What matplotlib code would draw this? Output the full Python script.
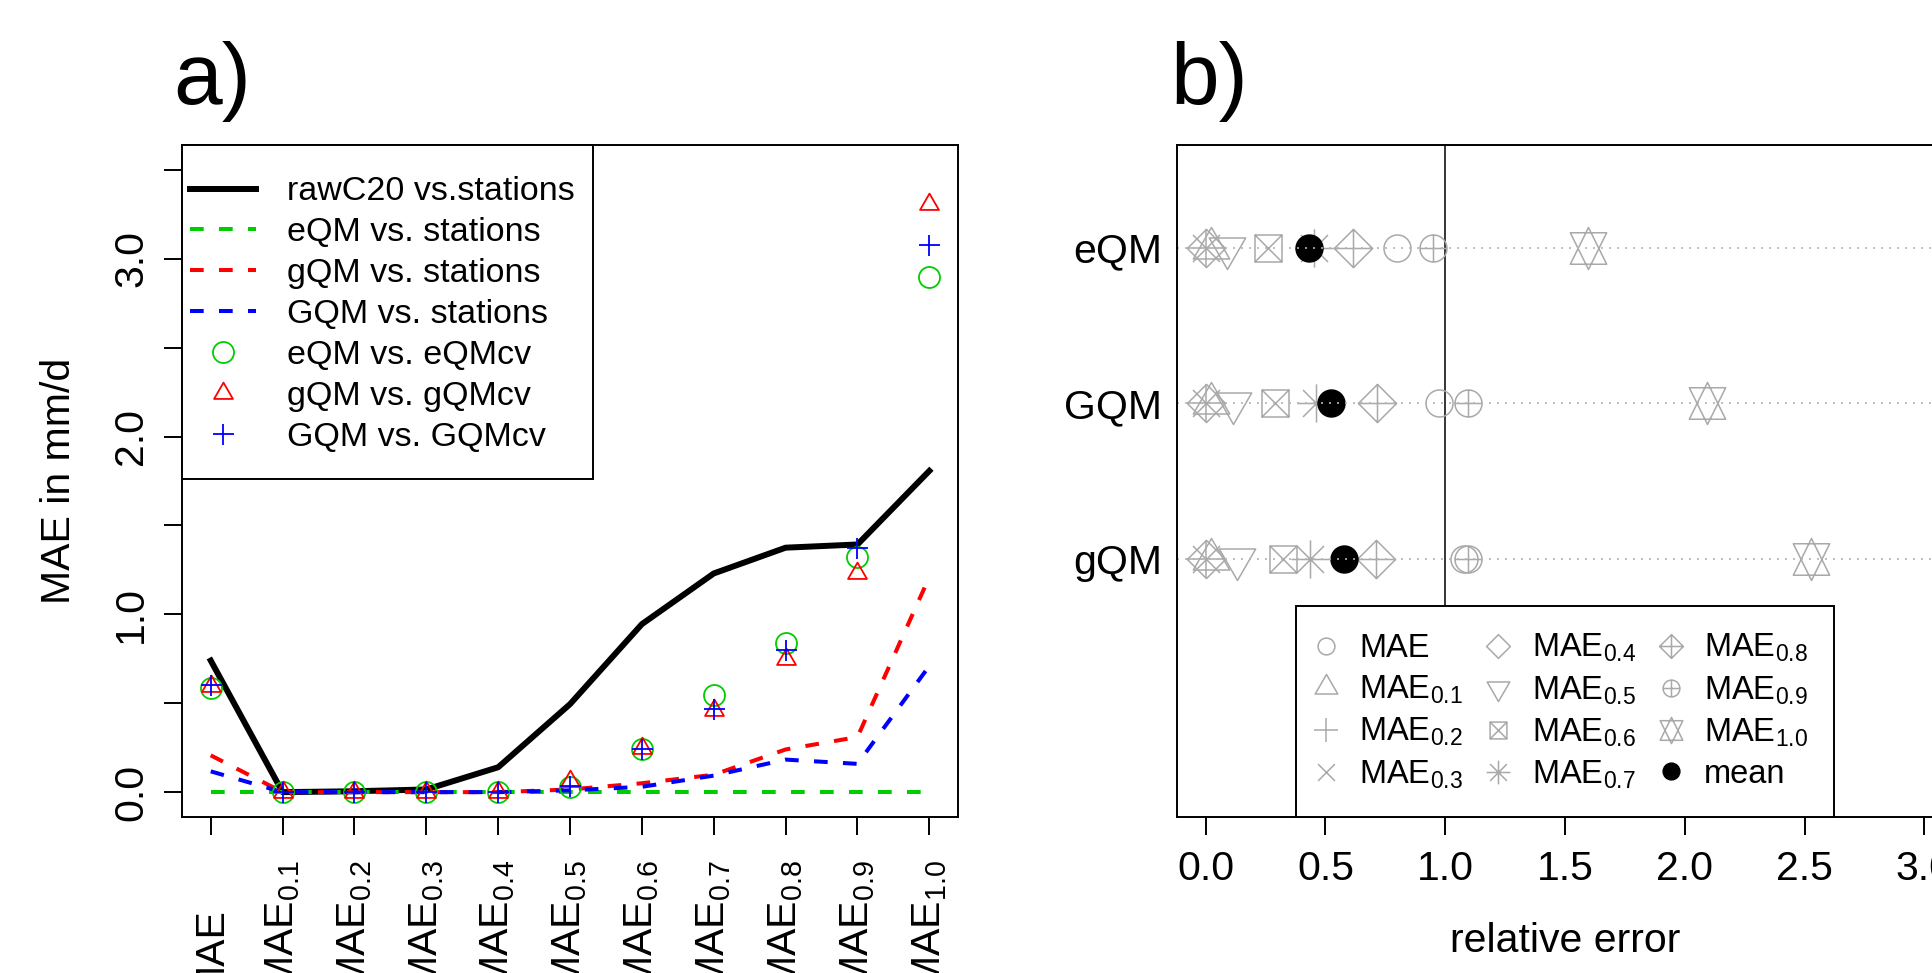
import numpy as np
import matplotlib
matplotlib.use('Agg')
import matplotlib.pyplot as plt
from matplotlib.path import Path
from matplotlib.lines import Line2D
from matplotlib.legend_handler import HandlerLine2D

plt.rcParams['font.family'] = ['Liberation Sans', 'DejaVu Sans']
plt.rcParams['mathtext.fontset'] = 'custom'
plt.rcParams['mathtext.rm'] = 'Liberation Sans'
plt.rcParams['mathtext.it'] = 'Liberation Sans:italic'
plt.rcParams['mathtext.bf'] = 'Liberation Sans:bold'

# ---------------- panel a) data ----------------
quantiles = ['MAE', '0.1', '0.2', '0.3', '0.4', '0.5', '0.6', '0.7', '0.8', '0.9', '1.0']
raw_c20 = [0.74, 0.0, 0.005, 0.015, 0.14, 0.495, 0.945, 1.23, 1.375, 1.393, 1.807]
eqm_st = [0.0, 0.0, 0.0, 0.0, 0.0, 0.0, 0.0, 0.0, 0.0, 0.0, 0.0]
gqm_st = [0.207, 0.0, 0.0, 0.0, 0.0, 0.015, 0.05, 0.098, 0.24, 0.31, 1.21]
GQM_st = [0.117, 0.0, 0.0, 0.0, 0.0, 0.01, 0.03, 0.093, 0.183, 0.159, 0.71]
eqm_cv = [0.588, 0.0, 0.0, 0.0, 0.0, 0.03, 0.244, 0.544, 0.841, 1.32, 2.90]
gqm_cv = [0.598, 0.0, 0.0, 0.0, 0.0, 0.06, 0.25, 0.46, 0.75, 1.23, 3.31]
GQM_cv = [0.60, 0.0, 0.0, 0.0, 0.0, 0.037, 0.24, 0.466, 0.80, 1.373, 3.076]

# ---------------- panel b) data ----------------
methods = ['eQM', 'GQM', 'gQM']
method_pos = [3, 2, 1]
rel_mae = [0.797, 0.972, 1.08]
rel_mae01 = [0.02, 0.02, 0.02]
rel_mae02 = [0.0, 0.0, 0.0]
rel_mae03 = [0.0, 0.0, 0.0]
rel_mae04 = [0.0, 0.0, 0.0]
rel_mae05 = [0.087, 0.112, 0.129]
rel_mae06 = [0.262, 0.29, 0.324]
rel_mae07 = [0.45, 0.46, 0.436]
rel_mae08 = [0.615, 0.716, 0.71]
rel_mae09 = [0.947, 1.095, 1.095]
rel_mae10 = [1.598, 2.092, 2.528]
rel_mean = [0.433, 0.523, 0.577]
rel_ticks = [0.0, 0.5, 1.0, 1.5, 2.0, 2.5, 3.0]

GREEN = '#00CD00'
GRAY = '#A9A9A9'
DPI = 100
PX = 72.0 / DPI  # points per pixel

# R-like plotting symbols (pch) as paths, in units of the symbol radius
TRC0, TRC1, TRC2 = 1.5551203, 1.3467737, 0.7775602
S2 = np.sqrt(2)


def seg(x0, y0, x1, y1):
    return Path([(x0, y0), (x1, y1)], [Path.MOVETO, Path.LINETO])


def poly(pts):
    return Path(pts + [pts[0]], [Path.MOVETO] + [Path.LINETO] * (len(pts) - 1) + [Path.CLOSEPOLY])


def pch(n):
    circ = Path.unit_circle()
    if n == 1:
        parts = [circ]
    elif n == 2:
        parts = [poly([(0, TRC0), (TRC1, -TRC2), (-TRC1, -TRC2)])]
    elif n == 3:
        parts = [seg(-S2, 0, S2, 0), seg(0, -S2, 0, S2)]
    elif n == 4:
        parts = [seg(-1, -1, 1, 1), seg(-1, 1, 1, -1)]
    elif n == 5:
        parts = [poly([(S2, 0), (0, S2), (-S2, 0), (0, -S2)])]
    elif n == 6:
        parts = [poly([(0, -TRC0), (TRC1, TRC2), (-TRC1, TRC2)])]
    elif n == 7:
        parts = [poly([(-1, -1), (1, -1), (1, 1), (-1, 1)]), seg(-1, -1, 1, 1), seg(-1, 1, 1, -1)]
    elif n == 8:
        parts = [seg(-1, -1, 1, 1), seg(-1, 1, 1, -1), seg(-S2, 0, S2, 0), seg(0, -S2, 0, S2)]
    elif n == 9:
        parts = [poly([(S2, 0), (0, S2), (-S2, 0), (0, -S2)]), seg(-S2, 0, S2, 0), seg(0, -S2, 0, S2)]
    elif n == 10:
        parts = [circ, seg(-1, 0, 1, 0), seg(0, -1, 0, 1)]
    else:  # 11
        yc = 0.5 * (TRC2 + TRC0)
        parts = [poly([(0, -TRC0), (TRC1, yc), (-TRC1, yc)]),
                 poly([(0, TRC0), (TRC1, -yc), (-TRC1, -yc)])]
    path = Path.make_compound_path(*parts)
    return path, 2 * np.abs(path.vertices).max()


def frame_style(left=0, right=0, bottom=0, top=0):
    # legend frame with uneven padding (pixels), like R's legend box
    def style(x0, y0, width, height, mutation_size, *args):
        x1, y1 = x0 - left, y0 - bottom
        x2, y2 = x0 + width + right, y0 + height + top
        return Path([(x1, y1), (x2, y1), (x2, y2), (x1, y2), (x1, y1)], closed=True)
    return style


fig = plt.figure(figsize=(19.32, 9.73), dpi=DPI)
ax = fig.add_axes([0.0942, 0.1603, 0.4017, 0.6907])
ax2 = fig.add_axes([0.6092, 0.1603, 0.4017, 0.6907])
AX_H = 0.6907 * 973

for a in (ax, ax2):
    for s in a.spines.values():
        s.set_linewidth(1.4)

# ---------------- panel a) ----------------
x = np.arange(1, len(quantiles) + 1)
ax.plot(x, raw_c20, color='black', lw=4.3, solid_joinstyle='round')
ax.plot(x, eqm_st, color=GREEN, lw=2.9, dashes=(3.4, 3.8))
ax.plot(x, gqm_st, color='red', lw=2.9, dashes=(3.4, 3.8))
ax.plot(x, GQM_st, color='blue', lw=2.9, dashes=(3.4, 3.8))

tri_path, tri_ext = pch(2)
ax.plot(x, eqm_cv, ls='none', marker='o', ms=21 * PX, mfc='none', mec=GREEN, mew=1.3)
ax.plot(x, gqm_cv, ls='none', marker=tri_path, ms=tri_ext * 7 * PX, mfc='none', mec='red', mew=1.3)
ax.plot(x, GQM_cv, ls='none', marker='+', ms=21 * PX, mec='blue', mew=1.3)

ax.set_xlim(0.6, 11.4)
ax.set_ylim(-0.14, 3.64)
ax.set_xticks(x)
ax.set_yticks([0, 0.5, 1.0, 1.5, 2.0, 2.5, 3.0, 3.5])
ax.set_yticklabels(['0.0', '', '1.0', '', '2.0', '', '3.0', ''])
ax.tick_params(axis='both', direction='out', length=13, width=1.4, labelsize=29.5)
ax.tick_params(axis='x', labelbottom=False)
ax.tick_params(axis='y', labelrotation=90, pad=10)
for lab in ax.get_yticklabels():
    lab.set_verticalalignment('center')

# rotated quantile labels, "MAE" letters lined up across all ticks
for xi, q in zip(x, quantiles):
    if q == 'MAE':
        txt, off = 'MAE', 65
    else:
        txt, off = 'MAE$_{\\mathrm{' + q + '}}$', 31
    ax.annotate(txt, xy=(xi, 0), xycoords=('data', 'axes fraction'),
                xytext=(0, -off), textcoords='offset points',
                rotation=90, ha='center', va='top', fontsize=29.5)

fig.text(70 / 1932, 0.5057, 'MAE in mm/d', rotation=90, rotation_mode='anchor',
         ha='center', va='baseline', fontsize=29.5)

handles_a = [
    Line2D([], [], color='black', lw=4.3),
    Line2D([], [], color=GREEN, lw=2.9, dashes=(3.4, 3.8)),
    Line2D([], [], color='red', lw=2.9, dashes=(3.4, 3.8)),
    Line2D([], [], color='blue', lw=2.9, dashes=(3.4, 3.8)),
    Line2D([], [], ls='none', marker='o', ms=21 * PX, mfc='none', mec=GREEN, mew=1.3),
    Line2D([], [], ls='none', marker=tri_path, ms=tri_ext * 7 * PX, mfc='none', mec='red', mew=1.3),
    Line2D([], [], ls='none', marker='+', ms=21 * PX, mec='blue', mew=1.3),
]
labels_a = ['rawC20 vs.stations', 'eQM vs. stations', 'gQM vs. stations', 'GQM vs. stations',
            'eQM vs. eQMcv', 'gQM vs. gQMcv', 'GQM vs. GQMcv']
TOP_A, BOT_A = 23.5, 18.5
leg = ax.legend(handles_a, labels_a, loc='upper left', bbox_to_anchor=(0, 1 - TOP_A / AX_H),
                borderaxespad=0, fontsize=24.5, handlelength=1.94, handletextpad=0.91,
                borderpad=0.235, labelspacing=0.29, fancybox=False, framealpha=1,
                edgecolor='black')
leg.get_frame().set_boxstyle(frame_style(right=10, top=TOP_A, bottom=BOT_A))
leg.get_frame().set_linewidth(1.4)

fig.text(173 / 1932, 1 - 104 / 973, 'a)', fontsize=63, ha='left', va='baseline')

# ---------------- panel b) ----------------
R_PT = 13.5 * PX
R_LEG = 8.4 * PX
series_b = [rel_mae, rel_mae01, rel_mae02, rel_mae03, rel_mae04, rel_mae05,
            rel_mae06, rel_mae07, rel_mae08, rel_mae09, rel_mae10]
pchs_b = [1, 2, 3, 4, 5, 6, 7, 8, 9, 10, 11]
labels_b = ['MAE'] + ['MAE$_{\\mathrm{' + q + '}}$' for q in quantiles[1:]] + ['mean']

handles_b = []
for vals, n in zip(series_b, pchs_b):
    path, ext = pch(n)
    ax2.plot(vals, method_pos, ls='none', marker=path, ms=ext * R_PT,
             mfc='none', mec=GRAY, mew=1.1)
    handles_b.append(Line2D([], [], ls='none', marker=path, ms=ext * R_LEG,
                            mfc='none', mec=GRAY, mew=1.1))
ax2.plot(rel_mean, method_pos, ls='none', marker='o', ms=2 * R_PT, mfc='black', mec='black')
handles_b.append(Line2D([], [], ls='none', marker='o', ms=2 * R_LEG, mfc='black', mec='black'))

for yp in method_pos:
    ax2.axhline(yp, color='#B4B4B4', lw=1.2, ls=(0, (1.2, 3.6)), zorder=2.5)
ax2.axvline(1.0, color='black', lw=1.1, zorder=1.5)

ax2.set_xlim(-0.12, 3.12)
ax2.set_ylim(-0.66, 3.66)
ax2.set_xticks(rel_ticks)
ax2.set_xticklabels(['%.1f' % t for t in rel_ticks])
ax2.set_yticks(method_pos)
ax2.set_yticklabels(methods)
ax2.tick_params(axis='x', direction='out', length=13, width=1.4, labelsize=29.5, pad=11)
ax2.tick_params(axis='y', length=0, labelsize=29.5, pad=10.5)
ax2.set_xlabel('relative error', fontsize=29.5, labelpad=24)

leg2 = ax2.legend(handles_b, labels_b, loc='lower center', bbox_to_anchor=(0.5, 0),
                  borderaxespad=0, ncol=3, fontsize=23.5, handlelength=0.25,
                  handletextpad=0.9, columnspacing=0.95, borderpad=0.8, labelspacing=0.3,
                  fancybox=False, framealpha=1, edgecolor='black')
leg2.get_frame().set_linewidth(1.4)

fig.text(1170 / 1932, 1 - 104 / 973, 'b)', fontsize=63, ha='left', va='baseline')

fig.savefig('out.png', dpi=DPI)
